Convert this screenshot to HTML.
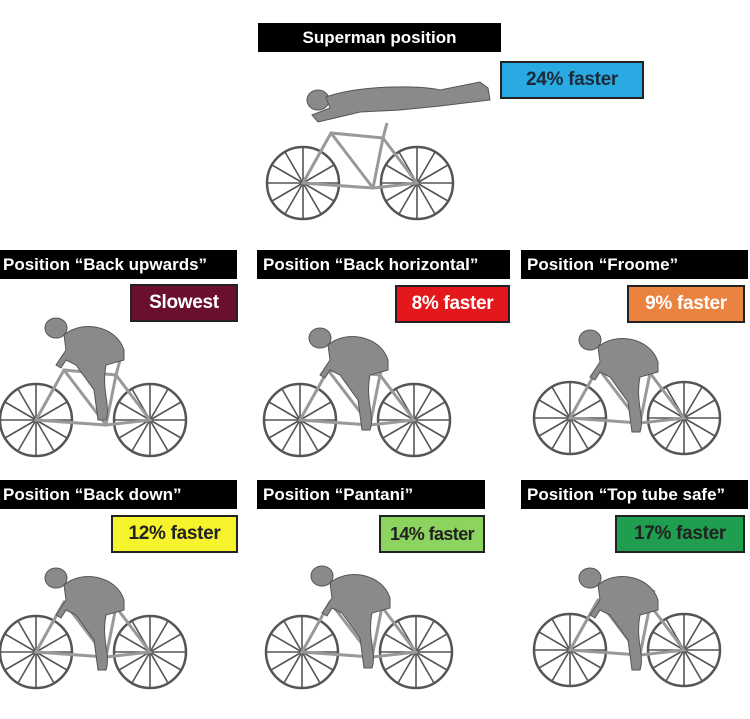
<!DOCTYPE html>
<html><head><meta charset="utf-8"><style>
body{margin:0;width:750px;height:719px;background:#fff;position:relative;overflow:hidden;font-family:"Liberation Sans",sans-serif}
.k{position:absolute;background:#000;color:#fff;font-weight:bold;font-size:17px;line-height:29px;height:29px;white-space:nowrap;overflow:hidden}
.s{position:absolute;border:2px solid #222;box-sizing:border-box;font-weight:bold;font-size:19px;text-align:center;height:38px;line-height:34px;white-space:nowrap;overflow:hidden;letter-spacing:-0.3px}
svg{position:absolute;left:0;top:0}
</style></head><body>
<svg width="750" height="719" viewBox="0 0 750 719">
<defs>
<g id="w" fill="none" stroke="#555" stroke-width="1.6">
<circle r="36" stroke-width="2.5"/>
<line x1="-36" y1="0" x2="36" y2="0"/><line x1="0" y1="-36" x2="0" y2="36"/>
<line x1="-31" y1="-18" x2="31" y2="18"/><line x1="-31" y1="18" x2="31" y2="-18"/>
<line x1="-18" y1="-31" x2="18" y2="31"/><line x1="-18" y1="31" x2="18" y2="-31"/>
</g>
<g id="b">
<use href="#w" x="0" y="0"/><use href="#w" x="114" y="0"/>
<g stroke="#999" stroke-width="3" fill="none">
<path d="M0 0 L28 -50 L80 -45 L70 5 Z"/><path d="M70 5 L114 0 L80 -45"/><path d="M28 -50 L70 5"/>
<path d="M80 -45 L84 -60"/>
</g>
</g>
<g id="r" fill="#8a8a8a" stroke="#555" stroke-width="1">
<ellipse cx="20" cy="-92" rx="11" ry="10"/>
<path d="M28 -85 C45 -100 80 -95 88 -70 L88 -60 L70 -55 C65 -30 75 -15 70 0 L62 0 L58 -30 L40 -55 L30 -60 L25 -52 L20 -55 L30 -70 Z"/>
</g>
</defs>
<use href="#b" x="303" y="183"/>
<g fill="#8a8a8a" stroke="#555"><ellipse cx="318" cy="100" rx="11" ry="10"/>
<path d="M326 97 C360 85 420 85 440 90 L480 82 L488 88 L490 100 L440 106 L400 110 L360 112 L335 118 L318 122 L312 115 L330 108 Z"/></g>
<use href="#b" x="36" y="420"/><use href="#r" x="36" y="420"/>
<use href="#b" x="300" y="420"/><use href="#r" x="300" y="430"/>
<use href="#b" x="570" y="418"/><use href="#r" x="570" y="432"/>
<use href="#b" x="36" y="652"/><use href="#r" x="36" y="670"/>
<use href="#b" x="302" y="652"/><use href="#r" x="302" y="668"/>
<use href="#b" x="570" y="650"/><use href="#r" x="570" y="670"/>
</svg>
<div class="k" style="left:258px;top:23px;width:243px;text-align:center">Superman position</div>
<div class="s" style="left:500px;top:61px;width:144px;background:#2aaae2;color:#1a2a3a">24% faster</div>
<div class="k" style="left:0;top:250px;width:237px;padding-left:3px;box-sizing:border-box">Position “Back upwards”</div>
<div class="k" style="left:257px;top:250px;width:253px;padding-left:6px;box-sizing:border-box">Position “Back horizontal”</div>
<div class="k" style="left:521px;top:250px;width:227px;padding-left:6px;box-sizing:border-box">Position “Froome”</div>
<div class="s" style="left:130px;top:284px;width:108px;background:#6b0f2f;color:#fff">Slowest</div>
<div class="s" style="left:395px;top:285px;width:115px;background:#e2181d;color:#fff">8% faster</div>
<div class="s" style="left:627px;top:285px;width:118px;background:#e9833f;color:#fff">9% faster</div>
<div class="k" style="left:0;top:480px;width:237px;padding-left:3px;box-sizing:border-box">Position “Back down”</div>
<div class="k" style="left:257px;top:480px;width:228px;padding-left:6px;box-sizing:border-box">Position “Pantani”</div>
<div class="k" style="left:521px;top:480px;width:227px;padding-left:6px;box-sizing:border-box">Position “Top tube safe”</div>
<div class="s" style="left:111px;top:515px;width:127px;background:#f6f22c;color:#222">12% faster</div>
<div class="s" style="left:379px;top:515px;width:106px;background:#8dd35f;color:#222;font-size:18px;letter-spacing:-0.6px">14% faster</div>
<div class="s" style="left:615px;top:515px;width:130px;background:#1e9e4e;color:#222">17% faster</div>
</body></html>
